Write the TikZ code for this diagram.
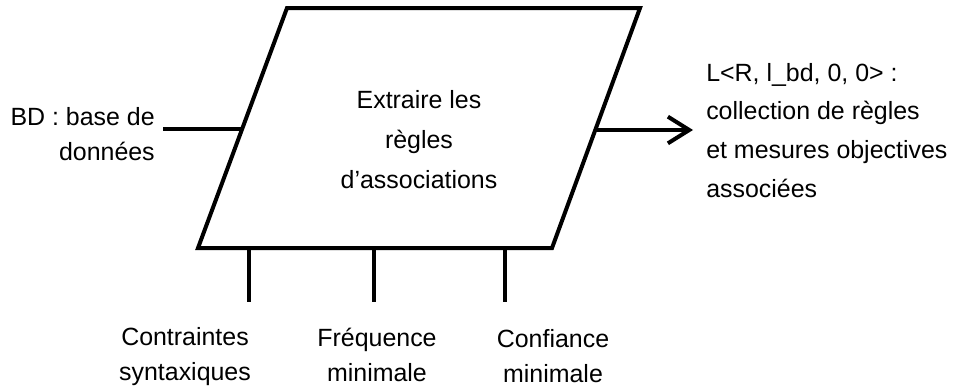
\documentclass[tikz,border=0pt]{standalone}
\usepackage{fontspec}
\setmainfont{Liberation Sans}
\usetikzlibrary{arrows.meta}
\begin{document}
\begin{tikzpicture}[x=0.75pt,y=-0.75pt,
  edge/.style={line width=3pt},
  label/.style={inner sep=0pt,text=black},
  lbl35/.style={label,font={\fontsize{18.7}{26.25}\selectfont}},
  lbl39/.style={label,font={\fontsize{18.7}{28.9}\selectfont}},
  lbl40/.style={label,font={\fontsize{18.7}{30}\selectfont}}]
\useasboundingbox (0,0) rectangle (955,389);

% process parallelogram
\coordinate (tl) at (287,8);
\coordinate (tr) at (640,8);
\coordinate (br) at (552,248);
\coordinate (bl) at (198,248);
\draw[edge,line join=miter] (tl) -- (tr) -- (br) -- (bl) -- cycle;
% multi-line nodes: the base anchor sits on the last line
\node[lbl40,anchor=base,align=center] (proc) at (419,188)
  {Extraire les\\règles\\d’associations};

% input: database
\node[lbl35,anchor=base east,align=right] (bd) at (155,160)
  {BD : base de\\données};
\coordinate (bdstart) at (163,129);
\coordinate (bdend) at (242,129);
\draw[edge] (bdstart) -- (bdend);

% output: rules collection
\coordinate (outstart) at (595,130);
\coordinate (outtip) at (693,130);
\draw[edge,-{Straight Barb[length=16pt,width=20pt]}] (outstart) -- (outtip);
\node[lbl39,anchor=base west,align=left] (out) at (706,197)
  {L<R, l\_bd, 0, 0> :\\collection de règles\\et mesures objectives\\associées};

% parameters underneath
\coordinate (p1top) at (249,248);
\coordinate (p1bot) at (249,302);
\coordinate (p2top) at (374,248);
\coordinate (p2bot) at (374,302);
\coordinate (p3top) at (505,248);
\coordinate (p3bot) at (505,302);
\draw[edge] (p1top) -- (p1bot);
\draw[edge] (p2top) -- (p2bot);
\draw[edge] (p3top) -- (p3bot);
\node[lbl35,anchor=base,align=center] (c1) at (185,380) {Contraintes\\syntaxiques};
\node[lbl35,anchor=base,align=center] (c2) at (377,381) {Fréquence\\minimale};
\node[lbl35,anchor=base,align=center] (c3) at (553,382) {Confiance\\minimale};
\end{tikzpicture}
\end{document}
